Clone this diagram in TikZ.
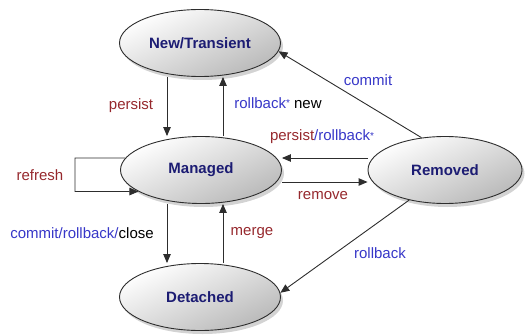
\documentclass[tikz,border=0pt]{standalone}
\usepackage{fontspec}
\setmainfont{Liberation Sans}
\usetikzlibrary{arrows.meta,shadows,shapes.geometric}
\definecolor{lblred}{RGB}{150,40,45}
\definecolor{lblblue}{RGB}{55,55,200}
\definecolor{statetxt}{RGB}{28,28,115}
\definecolor{linegray}{RGB}{45,45,45}
\newcommand{\smallast}{\raisebox{1.5pt}{\fontsize{10}{10}\selectfont *}}
\tikzset{
  state/.style={ellipse, draw=linegray, line width=0.9pt, minimum width=161pt, minimum height=67pt, inner sep=0pt,
    top color=white, bottom color=gray!55, shading angle=25,
    drop shadow={shadow xshift=2.5pt, shadow yshift=-3.5pt, opacity=0.35},
    font=\fontsize{15}{18}\selectfont\bfseries, text=statetxt},
  arr/.style={draw=linegray, line width=0.9pt, -{Triangle[length=9pt,width=7.5pt]}},
  lbl/.style={font=\fontsize{15}{18}\selectfont, inner sep=0pt},
}
\begin{document}
\begin{tikzpicture}[x=1pt,y=-1pt]
\useasboundingbox (0,0) rectangle (526,334);
\node[state] (nt) at (200,43) {New/Transient};
\node[state] (mg) at (201,170) {Managed};
\node[state] (dt) at (200,297) {Detached};
\node[state, minimum width=154pt] (rm) at (445,170) {Removed};

\draw[arr] ([xshift=-33pt]nt.south) -- ([xshift=-34pt]mg.north);
\draw[arr] ([xshift=22pt]mg.north) -- ([xshift=23pt]nt.south);
\draw[arr] ([xshift=-34pt]mg.south) -- ([xshift=-33pt]dt.north);
\draw[arr] ([xshift=23pt]dt.north) -- ([xshift=22pt]mg.south);
\draw[arr] ([yshift=12pt]rm.west) -- ([yshift=12pt]mg.east);
\draw[arr] ([yshift=-12pt]mg.east) -- ([yshift=-12pt]rm.west);
\draw[arr] (rm.126) -- (nt.-6);
\draw[arr] (rm.220) -- (dt.3);
\coordinate (lp) at (75,158);
\draw[arr] (mg.171) -- (lp) |- (mg.199);

\node[lbl, text=lblred] (l1) at (131,106) {persist};
\node[lbl] (l2) at (278,103) {\textcolor{lblblue}{rollback\smallast}~new};
\node[lbl] (l3) at (322,137) {\textcolor{lblred}{persist}\textcolor{lblblue}{/rollback\smallast}};
\node[lbl, text=lblred] (l4) at (40,175) {refresh};
\node[lbl, text=lblred] (l5) at (323,196) {remove};
\node[lbl] (l6) at (82,233) {\textcolor{lblblue}{commit/rollback/}close};
\node[lbl, text=lblred] (l7) at (252,233) {merge};
\node[lbl, text=lblblue] (l8) at (368,80) {commit};
\node[lbl, text=lblblue] (l9) at (380,253) {rollback};
\end{tikzpicture}
\end{document}
